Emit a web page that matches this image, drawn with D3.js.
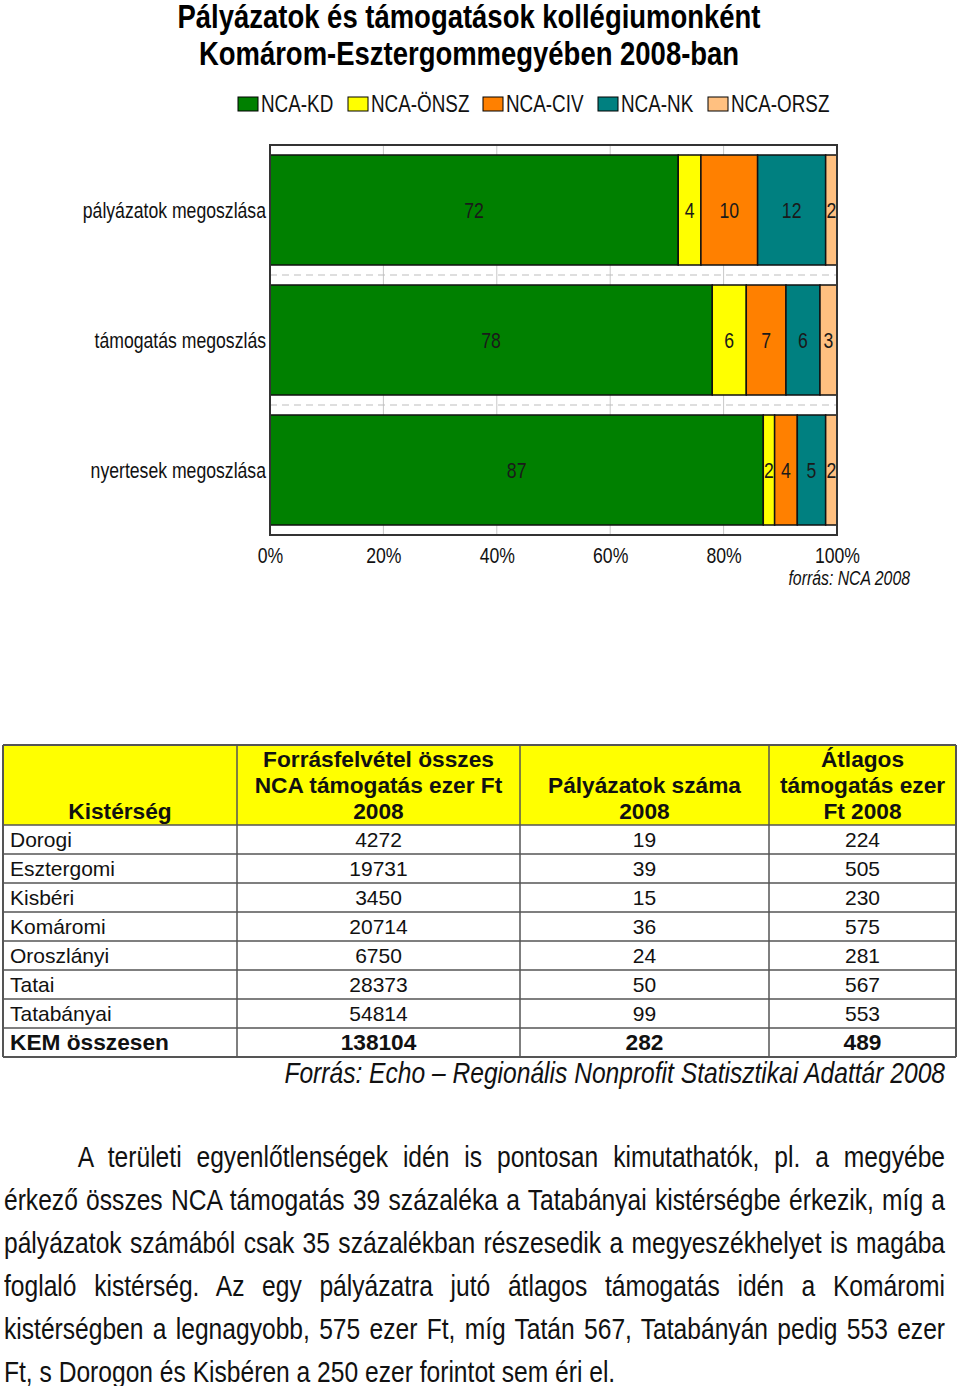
<html>
<head>
<meta charset="utf-8">
<style>
  body { margin: 0; background: #fff; }
  .wrap { position: relative; width: 960px; height: 1386px; }
  svg { position: absolute; left: 0; top: 0; }
  svg text { font-family: "Liberation Sans", Arial, sans-serif; }
  .para { position: absolute; left: 4px; box-sizing: border-box; width: 1147.6px; font-family: "Liberation Sans", Arial, sans-serif;
          font-size: 30px; line-height: 43px; text-align: justify; text-align-last: justify; white-space: nowrap; color: #111;
          transform: scaleX(0.82); transform-origin: 0 0; }
  .para.last { text-align-last: left; }
</style>
</head>
<body>
<div class="wrap">
<svg width="960" height="1386"></svg>
</div>
<script src="https://d3js.org/d3.v7.min.js"></script>
<script>
  // chart data
  let titleLines = ["Pályázatok és támogatások kollégiumonként", "Komárom-Esztergommegyében 2008-ban"]
  let categories = ["pályázatok megoszlása", "támogatás megoszlás", "nyertesek megoszlása"]
  let keys = ["NCA-KD", "NCA-ÖNSZ", "NCA-CIV", "NCA-NK", "NCA-ORSZ"]
  let colors = ["#008000", "#FFFF00", "#FF8000", "#008080", "#FFC080"]
  let ncaKD   = [72, 78, 87]
  let ncaONSZ = [4, 6, 2]
  let ncaCIV  = [10, 7, 4]
  let ncaNK   = [12, 6, 5]
  let ncaORSZ = [2, 3, 2]
  let xTicks = [0, 20, 40, 60, 80, 100]
  let chartSource = "forrás: NCA 2008"

  // table data
  let headers = [["Kistérség"], ["Forrásfelvétel összes", "NCA támogatás ezer Ft", "2008"], ["Pályázatok száma", "2008"], ["Átlagos", "támogatás ezer", "Ft 2008"]]
  let regions = ["Dorogi", "Esztergomi", "Kisbéri", "Komáromi", "Oroszlányi", "Tatai", "Tatabányai", "KEM összesen"]
  let support = [4272, 19731, 3450, 20714, 6750, 28373, 54814, 138104]
  let applications = [19, 39, 15, 36, 24, 50, 99, 282]
  let average = [224, 505, 230, 575, 281, 567, 553, 489]
  let tableSource = "Forrás: Echo – Regionális Nonprofit Statisztikai Adattár 2008"

  let paragraph = [
    "A területi egyenlőtlenségek  idén is pontosan kimutathatók, pl. a megyébe",
    "érkező összes NCA támogatás 39 százaléka a Tatabányai kistérségbe érkezik, míg a",
    "pályázatok számából csak 35 százalékban részesedik a megyeszékhelyet is magába",
    "foglaló kistérség. Az egy pályázatra jutó átlagos támogatás idén a Komáromi",
    "kistérségben a legnagyobb, 575 ezer Ft, míg Tatán 567, Tatabányán pedig 553 ezer",
    "Ft, s Dorogon és Kisbéren a 250 ezer forintot sem éri el."
  ]

  let svg = d3.select("svg")
  let margin = {top: 145, left: 270, right: 837, bottom: 535}
  let narrowK = 0.82

  // fake a narrow face: move x/y into a transform and squeeze horizontally
  function squeeze(sel) {
    sel.each(function () {
      let t = d3.select(this)
      let tx = +t.attr("x") || 0, ty = +t.attr("y") || 0
      t.attr("x", 0).attr("y", 0)
        .attr("transform", `translate(${tx},${ty}) scale(${narrowK},1)`)
    })
  }

  // title
  svg.selectAll(".title")
    .data(titleLines)
    .join("text")
    .attr("class", "title")
    .attr("x", 469)
    .attr("y", (d, i) => 28 + i * 37)
    .attr("text-anchor", "middle")
    .attr("font-size", 33.5)
    .attr("font-weight", "bold")
    .attr("fill", "#000")
    .text(d => d)
    .call(squeeze)

  let color = d3.scaleOrdinal().domain(keys).range(colors)

  // legend
  let legendX = [238, 348, 483, 598, 708]
  let legend = svg.append("g").attr("class", "legend")
  legend.selectAll("rect")
    .data(keys)
    .join("rect")
    .attr("x", (d, i) => legendX[i])
    .attr("y", 97)
    .attr("width", 20)
    .attr("height", 14)
    .attr("fill", d => color(d))
    .attr("stroke", "#000")
    .attr("stroke-width", 1)
  legend.selectAll("text")
    .data(keys)
    .join("text")
    .attr("x", (d, i) => legendX[i] + 23)
    .attr("y", 112)
    .attr("font-size", 23)
    .attr("fill", "#111")
    .text(d => d)
    .call(squeeze)

  // stacked bars
  let rows = categories.map((c, i) => ({
    cat: c,
    "NCA-KD": ncaKD[i], "NCA-ÖNSZ": ncaONSZ[i], "NCA-CIV": ncaCIV[i], "NCA-NK": ncaNK[i], "NCA-ORSZ": ncaORSZ[i]
  }))
  let series = d3.stack().keys(keys)(rows)

  let x = d3.scaleLinear().domain([0, 100]).range([margin.left, margin.right])
  let y = d3.scaleBand().domain(categories).range([margin.top, margin.bottom]).paddingInner(20 / 130).paddingOuter(10 / 130)
  let band = d3.scaleBand().domain(categories).range([margin.top, margin.bottom])

  // vertical gridlines
  svg.append("g")
    .selectAll("line")
    .data(xTicks.slice(1, -1))
    .join("line")
    .attr("x1", d => x(d)).attr("x2", d => x(d))
    .attr("y1", margin.top).attr("y2", margin.bottom)
    .attr("stroke", "#c8c8c8")
    .attr("stroke-width", 1)

  // dashed category lines
  svg.append("g")
    .selectAll("line")
    .data(categories.slice(1))
    .join("line")
    .attr("x1", margin.left).attr("x2", margin.right)
    .attr("y1", d => band(d)).attr("y2", d => band(d))
    .attr("stroke", "#bdbdbd")
    .attr("stroke-width", 1.2)
    .attr("stroke-dasharray", "7,5")

  let groups = svg.append("g")
    .selectAll("g")
    .data(series)
    .join("g")
    .attr("fill", d => color(d.key))

  groups.selectAll("rect")
    .data(d => d)
    .join("rect")
    .attr("x", d => x(d[0]))
    .attr("y", d => y(d.data.cat))
    .attr("width", d => x(d[1]) - x(d[0]))
    .attr("height", y.bandwidth())
    .attr("stroke", "#111")
    .attr("stroke-width", 1.5)

  groups.selectAll("text")
    .data(d => d)
    .join("text")
    .attr("x", d => (x(d[0]) + x(d[1])) / 2)
    .attr("y", d => y(d.data.cat) + y.bandwidth() / 2 + 8)
    .attr("text-anchor", "middle")
    .attr("font-size", 21.5)
    .attr("fill", "#1a1a1a")
    .text(d => d[1] - d[0])
    .call(squeeze)

  // plot border
  svg.append("rect")
    .attr("x", margin.left).attr("y", margin.top)
    .attr("width", margin.right - margin.left).attr("height", margin.bottom - margin.top)
    .attr("fill", "none")
    .attr("stroke", "#333")
    .attr("stroke-width", 2)

  // category labels
  svg.append("g")
    .selectAll("text")
    .data(categories)
    .join("text")
    .attr("x", 266)
    .attr("y", d => band(d) + band.bandwidth() / 2 + 8)
    .attr("text-anchor", "end")
    .attr("font-size", 21.5)
    .attr("fill", "#111")
    .text(d => d)
    .call(squeeze)

  // x axis
  let xAxis = d3.axisBottom(x).tickValues(xTicks).tickSize(0).tickPadding(13).tickFormat(d => d + "%")
  svg.append("g")
    .attr("transform", `translate(0, ${margin.bottom})`)
    .call(xAxis)
    .call(g => g.select(".domain").remove())
    .call(g => g.selectAll("text")
      .attr("font-size", 21.5)
      .attr("fill", "#111")
      .attr("font-family", "Liberation Sans, Arial, sans-serif")
      .attr("transform", `scale(${narrowK},1)`))

  svg.append("text")
    .attr("x", 910).attr("y", 585)
    .attr("text-anchor", "end")
    .attr("font-size", 19.3)
    .attr("font-style", "italic")
    .attr("fill", "#111")
    .text(chartSource)
    .call(squeeze)

  // table
  let colX = [3, 237, 520, 769, 956]
  let headTop = 745, headBottom = 825, rowH = 29
  let tbl = svg.append("g")

  tbl.append("rect")
    .attr("x", colX[0]).attr("y", headTop)
    .attr("width", colX[4] - colX[0]).attr("height", headBottom - headTop)
    .attr("fill", "#FFFF00")

  headers.forEach((lines, c) => {
    tbl.selectAll(null)
      .data(lines)
      .join("text")
      .attr("x", (colX[c] + colX[c + 1]) / 2)
      .attr("y", (d, i) => headBottom - 6 - (lines.length - 1 - i) * 26)
      .attr("text-anchor", "middle")
      .attr("font-size", 22.7)
      .attr("font-weight", "bold")
      .attr("fill", "#111")
      .text(d => d)
  })

  let tableRows = regions.map((r, i) => [r, support[i], applications[i], average[i]])
  let rowG = tbl.selectAll(".row")
    .data(tableRows)
    .join("g")
    .attr("class", "row")
    .attr("transform", (d, i) => `translate(0, ${headBottom + i * rowH})`)

  rowG.selectAll("text")
    .data((d, i) => d.map(v => ({v: v, bold: i === regions.length - 1})))
    .join("text")
    .attr("x", (d, c) => c === 0 ? 10 : (colX[c] + colX[c + 1]) / 2)
    .attr("y", 22)
    .attr("text-anchor", (d, c) => c === 0 ? "start" : "middle")
    .attr("font-size", d => d.bold ? 22.7 : 21)
    .attr("font-weight", d => d.bold ? "bold" : "normal")
    .attr("fill", "#111")
    .text(d => d.v)

  let tableBottom = headBottom + regions.length * rowH
  let hLines = [headTop, headBottom].concat(regions.map((r, i) => headBottom + (i + 1) * rowH))
  tbl.selectAll(".hl")
    .data(hLines)
    .join("line")
    .attr("x1", colX[0]).attr("x2", colX[4])
    .attr("y1", d => d).attr("y2", d => d)
    .attr("stroke", "#555")
    .attr("stroke-width", (d, i) => (i === 0 || i === hLines.length - 1) ? 2 : 1.5)
  tbl.selectAll(".vl")
    .data(colX)
    .join("line")
    .attr("x1", d => d).attr("x2", d => d)
    .attr("y1", headTop).attr("y2", tableBottom)
    .attr("stroke", "#555")
    .attr("stroke-width", (d, i) => (i === 0 || i === colX.length - 1) ? 2 : 1.5)

  svg.append("text")
    .attr("x", 945).attr("y", 1083)
    .attr("text-anchor", "end")
    .attr("font-size", 30)
    .attr("font-style", "italic")
    .attr("fill", "#111")
    .text(tableSource)
    .call(squeeze)

  // paragraph
  d3.select(".wrap").selectAll(".para")
    .data(paragraph)
    .join("div")
    .attr("class", (d, i) => i === paragraph.length - 1 ? "para last" : "para")
    .style("top", (d, i) => (1135 + i * 43) + "px")
    .style("padding-left", (d, i) => i === 0 ? "90px" : "0px")
    .text(d => d)
</script>
</body>
</html>
